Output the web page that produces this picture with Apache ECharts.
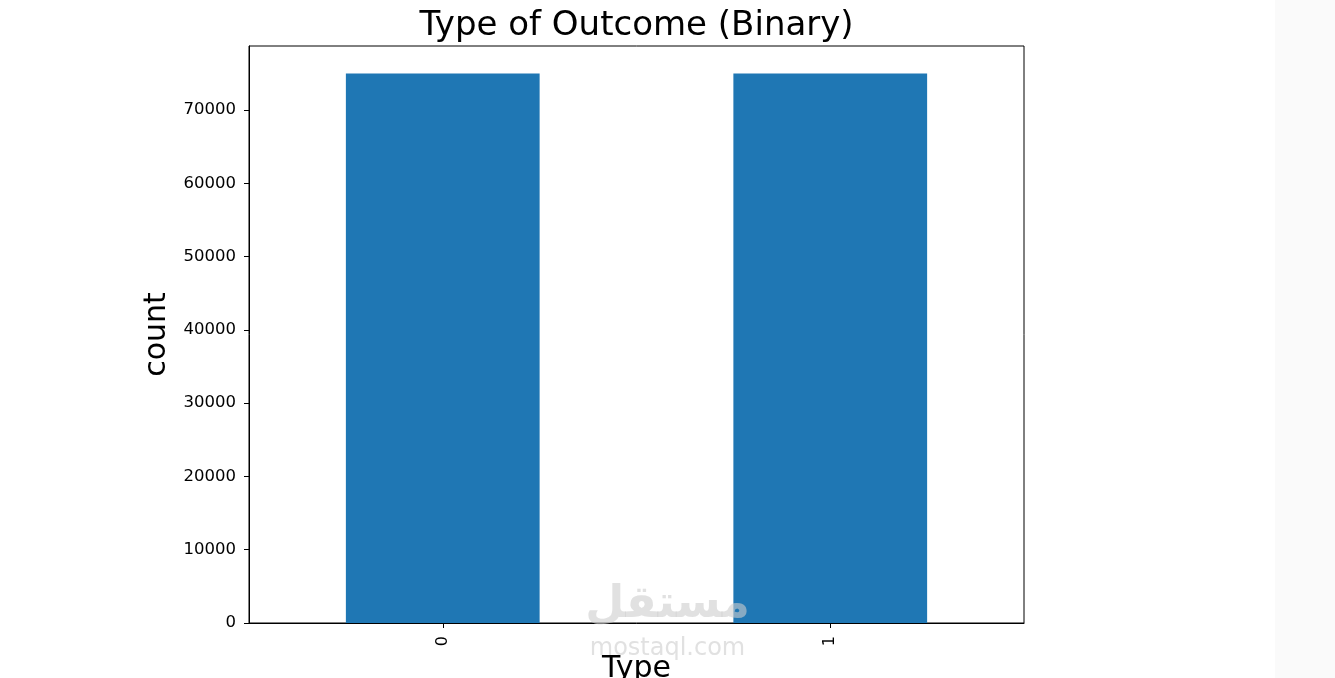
<!DOCTYPE html>
<html>
<head>
<meta charset="utf-8">
<script src="https://cdn.jsdelivr.net/npm/echarts@6/dist/echarts.min.js"></script>
<style>
html,body{margin:0;padding:0;background:#fff;}
#c{width:1335px;height:678px;}
</style>
</head>
<body>
<div id="c"></div>
<script>
const categories = ['0', '1'];
const counts = [75000, 75000];
const yTicks = [0, 10000, 20000, 30000, 40000, 50000, 60000, 70000];
const titleText = 'Type of Outcome (Binary)';

const chart = echarts.init(document.getElementById('c'), null, {renderer: 'canvas'});
const FONT = 'DejaVu Sans';
chart.setOption({
  animation: false,
  backgroundColor: '#ffffff',
  textStyle: {fontFamily: FONT},
  graphic: [
    {type: 'rect', left: 1275, top: 0, shape: {width: 60, height: 678}, style: {fill: '#fafafa'}, z: -10},
    {type: 'text', x: 636.5, y: 9, style: {text: titleText, align: 'center', verticalAlign: 'top', fill: '#000', font: '34px "DejaVu Sans"'}, z: 100},
    {type: 'text', left: 'center', top: 583, style: {text: 'مستقل', fill: 'rgba(205,205,205,0.6)', font: 'bold 45px "DejaVu Sans"'}, z: 100},
    {type: 'text', left: 'center', top: 637, style: {text: 'mostaql.com', fill: 'rgba(205,205,205,0.6)', font: '24px "DejaVu Sans"'}, z: 100}
  ],
  grid: {
    left: 249, top: 46, width: 775, height: 577,
    outerBoundsMode: 'none',
    containLabel: false,
    show: true, borderColor: '#000', borderWidth: 1, backgroundColor: '#fff'
  },
  xAxis: {
    type: 'category',
    data: categories,
    name: 'Type',
    nameLocation: 'middle',
    nameGap: 27,
    nameTextStyle: {fontFamily: FONT, fontSize: 30, color: '#000', verticalAlign: 'top'},
    axisLine: {show: true, lineStyle: {color: '#000', width: 1}},
    axisTick: {show: true, alignWithLabel: true, length: 5, lineStyle: {color: '#000'}},
    axisLabel: {rotate: 90, fontFamily: FONT, fontSize: 16, color: '#000', margin: 13},
    splitLine: {show: false}
  },
  yAxis: {
    type: 'value',
    min: 0,
    max: 78750,
    interval: 10000,
    name: 'count',
    nameLocation: 'middle',
    nameGap: 72,
    nameTextStyle: {fontFamily: FONT, fontSize: 30, color: '#000'},
    axisLine: {show: true, lineStyle: {color: '#000', width: 1}},
    axisTick: {show: true, length: 5, lineStyle: {color: '#000'}, customValues: yTicks},
    axisLabel: {
      fontFamily: FONT, fontSize: 16.5, color: '#000', margin: 13,
      padding: [5, 0, 0, 0],
      customValues: yTicks,
      formatter: v => String(v)
    },
    splitLine: {show: false}
  },
  series: [{
    type: 'bar',
    data: counts,
    barWidth: '50%',
    itemStyle: {color: '#1f77b4'}
  }]
});
</script>
</body>
</html>
